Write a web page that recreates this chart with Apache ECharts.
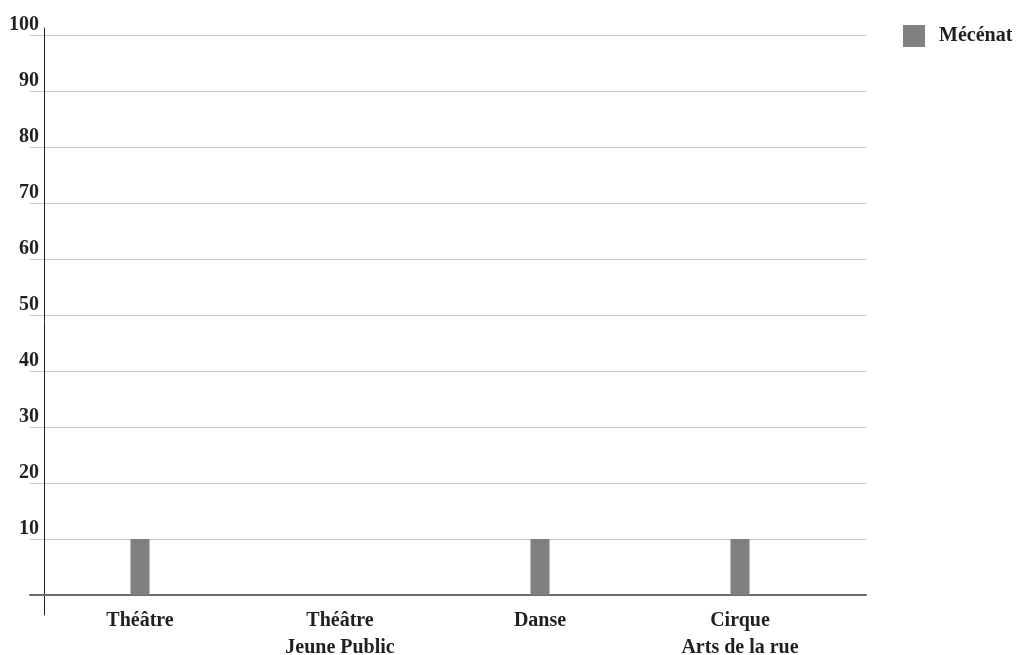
<!DOCTYPE html>
<html>
<head>
<meta charset="utf-8">
<script src="https://cdn.jsdelivr.net/npm/echarts@6/dist/echarts.min.js"></script>
<style>
  html, body { margin: 0; padding: 0; background: #fff; }
  #chart { width: 1017px; height: 655px; }
</style>
</head>
<body>
<div id="chart"></div>
<script>
// Disciplines on the horizontal axis
const categories = ['Théâtre', 'Théâtre\nJeune Public', 'Danse', 'Cirque\nArts de la rue'];
// Share of patronage (mécénat) per discipline, in %
const mecenat = [10, 0, 10, 10];
// Value axis range and step
const yMin = 0;
const yMax = 100;
const yStep = 10;

const FONT = '"Liberation Serif", "DejaVu Serif", serif';
const TEXT = '#231f20';

const chart = echarts.init(document.getElementById('chart'), null, { renderer: 'canvas' });

chart.setOption({
  animation: false,
  backgroundColor: '#ffffff',
  textStyle: { fontFamily: FONT },
  legend: {
    data: ['Mécénat'],
    left: 903,
    top: 25,
    padding: 0,
    itemWidth: 22,
    itemHeight: 22,
    itemGap: 10,
    icon: 'rect',
    textStyle: { fontFamily: FONT, fontWeight: 'bold', fontSize: 20, color: TEXT, padding: [0, 0, 0, 9] }
  },
  grid: [
    // gridlines, tick labels and baseline
    { left: 30, right: 151, top: 35, bottom: 60, outerBoundsMode: 'none' },
    // vertical axis line
    { left: 44, right: 151, top: 28, bottom: 40, outerBoundsMode: 'none' },
    // bars and category labels
    { left: 40, right: 177, top: 35, bottom: 60, outerBoundsMode: 'none' }
  ],
  xAxis: [
    {
      gridIndex: 0, type: 'value', min: 0, max: 1,
      axisLine: { show: true, onZero: false, lineStyle: { color: '#6d6e71', width: 2 } },
      axisTick: { show: false }, axisLabel: { show: false }, splitLine: { show: false }
    },
    {
      gridIndex: 1, type: 'value', min: 0, max: 1, show: false
    },
    {
      gridIndex: 2, type: 'category', data: categories,
      axisLine: { show: false }, axisTick: { show: false },
      axisLabel: {
        margin: 12, interval: 0,
        fontFamily: FONT, fontWeight: 'bold', fontSize: 20, color: TEXT, lineHeight: 27
      }
    }
  ],
  yAxis: [
    {
      gridIndex: 0, type: 'value', min: yMin, max: yMax, interval: yStep,
      axisLine: { show: false }, axisTick: { show: false },
      axisLabel: {
        margin: -9, align: 'right', verticalAlign: 'bottom', showMinLabel: false,
        fontFamily: FONT, fontWeight: 'bold', fontSize: 20, color: TEXT
      },
      splitLine: { show: true, lineStyle: { color: '#c8c8c8', width: 1 } }
    },
    {
      gridIndex: 1, type: 'value', min: 0, max: 1,
      axisLine: { show: true, lineStyle: { color: '#231f20', width: 1 } },
      axisTick: { show: false }, axisLabel: { show: false }, splitLine: { show: false }
    },
    {
      gridIndex: 2, type: 'value', min: yMin, max: yMax, interval: yStep, show: false,
      splitLine: { show: false }
    }
  ],
  series: [
    {
      name: 'Mécénat',
      type: 'bar',
      xAxisIndex: 2,
      yAxisIndex: 2,
      data: mecenat,
      barWidth: 19,
      itemStyle: { color: '#808083' }
    }
  ]
});
</script>
</body>
</html>
